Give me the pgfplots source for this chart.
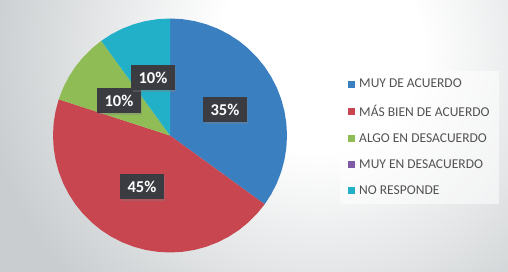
\documentclass[border=0pt]{standalone}
\usepackage{pgfplots}
\pgfplotsset{compat=1.18}
\usepackage{fontspec}
\setmainfont{Carlito}
\usetikzlibrary{shadows}
\definecolor{blueC}{HTML}{3A80C1}
\definecolor{redC}{HTML}{C84650}
\definecolor{greenC}{HTML}{8FBC55}
\definecolor{purpleC}{HTML}{7E5BA6}
\definecolor{cyanC}{HTML}{22B0C8}
\definecolor{bgout}{HTML}{C9CDCF}
\definecolor{lblbg}{HTML}{3B3C42}
\pgfdeclareradialshading{bgshade}{\pgfpoint{0bp}{0bp}}{color(0bp)=(white); color(7.5bp)=(white); color(25bp)=(bgout); color(50bp)=(bgout)}
\tikzset{lbl/.style={fill=lblbg, text=white, font=\fontsize{16.5}{18}\selectfont\bfseries,
    inner xsep=7.5pt, minimum height=25pt,
    drop shadow={shadow xshift=1.5pt, shadow yshift=-1.5pt, opacity=0.35}}}
\begin{document}
\begin{tikzpicture}
\begin{axis}[
  set layers,
  scale only axis, width=508pt, height=272pt,
  xmin=-170, xmax=338, ymin=-136.5, ymax=135.5,
  hide axis, clip=false,
  legend cell align=left,
  legend image code/.code={\fill[#1, fill opacity=1, draw=none] (0pt,-3.5pt) rectangle (7pt,3.5pt);
    \path (0pt,0pt) -- (9.5pt,0pt);},
  legend style={at={(0.6693,0.7390)}, anchor=north west, draw=none,
    fill=white, fill opacity=0.55, text opacity=1,
    font=\fontsize{13.5}{16}\selectfont, text=black!68,
    row sep=11.7pt, inner xsep=7.5pt, inner ysep=6pt},
]
\begin{pgfonlayer}{axis background}
  \clip (axis cs:-170,-136.5) rectangle (axis cs:338,135.5);
  \fill[bgout] (axis cs:-170,-136.5) rectangle (axis cs:338,135.5);
  \shade[shading=bgshade] (axis cs:150,85.5) circle[radius=340pt];
\end{pgfonlayer}
% MUY DE ACUERDO 35%
\addplot[fill=blueC, draw=none, data cs=polar] coordinates {
 (0,0) (90,117) (84,117) (78,117) (72,117) (66,117) (60,117) (54,117) (48,117)
 (42,117) (36,117) (30,117) (24,117) (18,117) (12,117) (6,117) (0,117)
 (-6,117) (-12,117) (-18,117) (-24,117) (-30,117) (-36,117)};
\addlegendentry{MUY DE ACUERDO}
% MAS BIEN DE ACUERDO 45%
\addplot[fill=redC, draw=none, data cs=polar] coordinates {
 (0,0) (-36,117) (-42,117) (-48,117) (-54,117) (-60,117) (-66,117) (-72,117)
 (-78,117) (-84,117) (-90,117) (-96,117) (-102,117) (-108,117) (-114,117)
 (-120,117) (-126,117) (-132,117) (-138,117) (-144,117) (-150,117) (-156,117)
 (-162,117) (-168,117) (-174,117) (-180,117) (-186,117) (-192,117) (-198,117)};
\addlegendentry{MÁS BIEN DE ACUERDO}
% ALGO EN DESACUERDO 10%
\addplot[fill=greenC, draw=none, data cs=polar] coordinates {
 (0,0) (162,117) (156,117) (150,117) (144,117) (138,117) (132,117) (126,117)};
\addlegendentry{ALGO EN DESACUERDO}
% MUY EN DESACUERDO 0%
\addlegendimage{fill=purpleC, draw=none}
\addlegendentry{MUY EN DESACUERDO}
% NO RESPONDE 10%
\addplot[fill=cyanC, draw=none, data cs=polar] coordinates {
 (0,0) (126,117) (120,117) (114,117) (108,117) (102,117) (96,117) (90,117)};
\addlegendentry{NO RESPONDE}
\node[lbl] at (axis cs:55,25.5) {35\%};
\node[lbl] at (axis cs:-28,-51.5) {45\%};
\node[lbl] at (axis cs:-51,34.5) {10\%};
\node[lbl] at (axis cs:-17,57.5) {10\%};
\end{axis}
\end{tikzpicture}
\end{document}
